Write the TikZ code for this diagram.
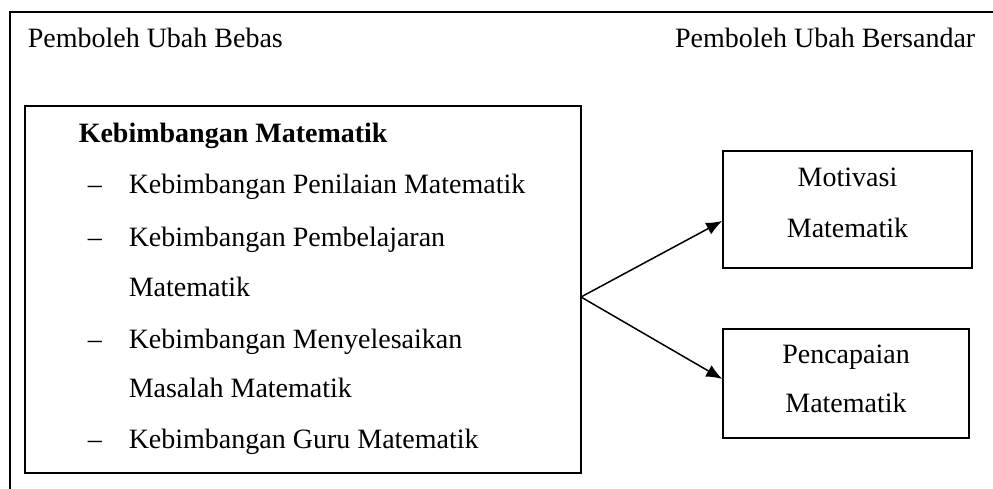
\documentclass[tikz,border=0pt]{standalone}
\usepackage{fontspec}
\setmainfont{Liberation Serif}
\usetikzlibrary{arrows.meta}

\begin{document}
\begin{tikzpicture}[x=1pt,y=-1pt,line width=1.5pt,>={Latex[length=16pt,width=13pt]},
                    text node/.style={anchor=base west,inner sep=0pt,font=\fontsize{28}{34}\selectfont},
                    head node/.style={text node,font=\fontsize{28}{34}\selectfont\bfseries},
                    mid node/.style={text node,anchor=base},
                    box node/.style={draw,inner sep=0pt,line width=1.5pt}]
\useasboundingbox (0,0) rectangle (993,489);
\draw (10,489) -- (10,12) -- (993,12);

\node[text node] (bebas) at (27,48) {Pemboleh Ubah Bebas};
\node[text node,anchor=base east] (bersandar) at (976,48) {Pemboleh Ubah Bersandar};

\node[box node,minimum width=556pt,minimum height=367pt] (kebimbangan) at (303,289.5) {};
\node[head node] (tajuk) at (78,142.7) {Kebimbangan Matematik};
\foreach \y in {194,246,348,448}
  \node[text node] (d\y) at (87,\y) {–};
\node[text node] (penilaian) at (128,194) {Kebimbangan Penilaian Matematik};
\node[text node] (pembelajaran) at (128,246) {Kebimbangan Pembelajaran};
\node[text node] (pembelajaran2) at (128,296) {Matematik};
\node[text node] (masalah) at (128,348) {Kebimbangan Menyelesaikan};
\node[text node] (masalah2) at (128,397) {Masalah Matematik};
\node[text node] (guru) at (128,448) {Kebimbangan Guru Matematik};

\node[box node,minimum width=249pt,minimum height=117pt] (motivasi) at (847.5,209.5) {};
\node[mid node] (motivasi1) at (847.5,187) {Motivasi};
\node[mid node] (motivasi2) at (847.5,237) {Matematik};
\node[box node,minimum width=246pt,minimum height=109pt] (pencapaian) at (846,383.5) {};
\node[mid node] (pencapaian1) at (846,363) {Pencapaian};
\node[mid node] (pencapaian2) at (846,412) {Matematik};

\coordinate (pecah) at (581,297);
\draw[->] (pecah) -- ([yshift=-11.5pt]motivasi.west);
\draw[->] (pecah) -- ([yshift=4.5pt]pencapaian.west);
\end{tikzpicture}
\end{document}
